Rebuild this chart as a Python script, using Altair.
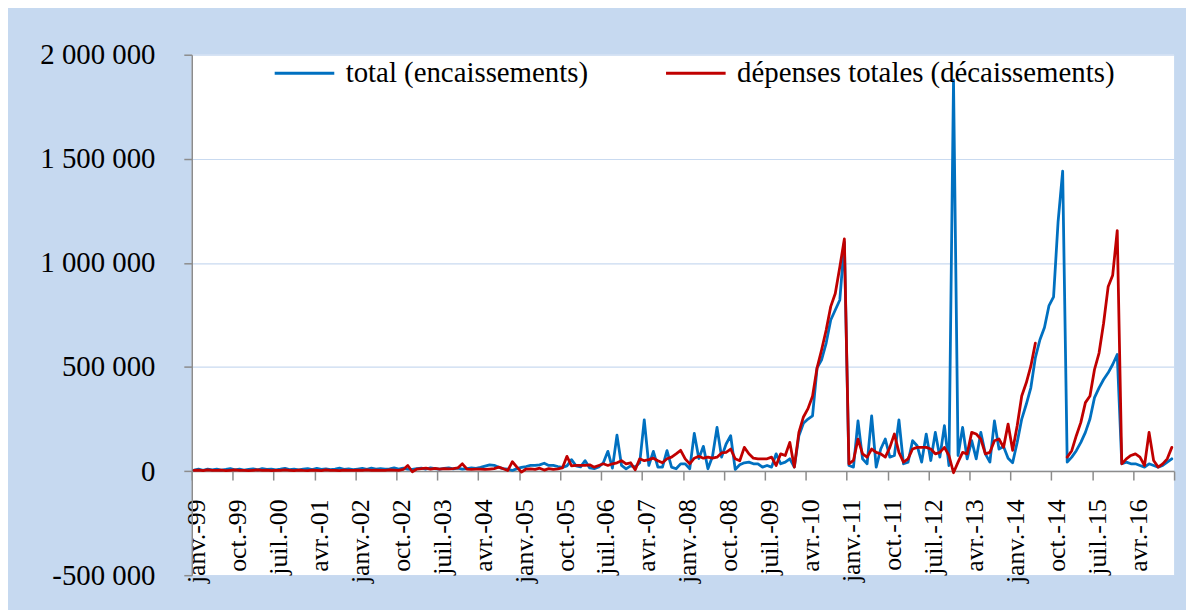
import json
import altair as alt
import pandas as pd

# ---- tick labels -------------------------------------------------------
x_tick_labels = ["janv.-99", "oct.-99", "juil.-00", "avr.-01", "janv.-02", "oct.-02",
                 "juil.-03", "avr.-04", "janv.-05", "oct.-05", "juil.-06", "avr.-07",
                 "janv.-08", "oct.-08", "juil.-09", "avr.-10", "janv.-11", "oct.-11",
                 "juil.-12", "avr.-13", "janv.-14", "oct.-14", "juil.-15", "avr.-16", ""]
y_tick_values = [-500000, 0, 500000, 1000000, 1500000, 2000000]
y_tick_labels = ["-500 000", "0", "500 000", "1 000 000", "1 500 000", "2 000 000"]

series_names = ["total (encaissements)", "dépenses totales (décaissements)"]

# ---- monthly values, janv. 1999 -> déc. 2016, in thousands of millions F CFA ----
encaissements_k = [
    5, 9, 4, 10, 6, 9, 5, 8, 12, 6, 9, 5,                 # 1999
    8, 11, 6, 12, 8, 10, 6, 9, 13, 7, 10, 6,              # 2000
    9, 12, 7, 13, 8, 11, 7, 10, 14, 8, 11, 7,             # 2001
    10, 13, 8, 14, 10, 12, 9, 11, 15, 10, 14, 9,          # 2002
    8, 12, 14, 10, 15, 12, 9, 13, 16, 11, 14, 10,         # 2003
    12, 15, 13, 18, 24, 30, 28, 18, 12, 10, 3, 12,        # 2004
    18, 22, 27, 27, 30, 38, 27, 27, 22, 18, 25, 55,       # 2005
    25, 20, 50, 15, 12, 20, 40, 95, 14, 173, 27, 11,      # 2006
    25, 20, 40, 246, 27, 95, 19, 19, 98, 19, 11, 35,      # 2007
    35, 11, 181, 60, 119, 11, 70, 210, 67, 130, 170, 8,   # 2008
    30, 40, 43, 35, 35, 19, 27, 19, 83, 35, 43, 59,       # 2009
    19, 170, 230, 250, 265, 496, 535, 615, 726, 774, 822, 1100,   # 2010
    27, 19, 241, 59, 35, 265, 19, 106, 154, 67, 75, 246,  # 2011
    35, 43, 146, 122, 43, 178, 51, 186, 67, 218, 27, 1878,  # 2012
    75, 210, 59, 146, 59, 186, 83, 43, 241, 106, 118, 62,   # 2013
    40, 138, 250, 321, 400, 545, 631, 690, 795, 837, 1200, 1441,  # 2014
    43, 67, 98, 138, 186, 250, 353, 400, 440, 472, 512, 560,      # 2015
    35, 43, 35, 35, 27, 19, 35, 27, 19, 27, 43, 59,               # 2016
]
decaissements_k = [
    3, 5, 2, 6, 4, 3, 5, 2, 4, 6, 3, 4,                   # 1999
    2, 4, 6, 3, 5, 2, 4, 3, 6, 4, 2, 5,                   # 2000
    3, 2, 5, 4, 2, 6, 3, 4, 2, 5, 3, 4,                   # 2001
    5, 3, 6, 4, 5, 3, 4, 6, 5, 4, 8, 27,                  # 2002
    -3, 10, 12, 14, 9, 13, 10, 12, 11, 12, 15, 35,        # 2003
    10, 8, 9, 10, 8, 10, 12, 19, 11, 3, 45, 19,           # 2004
    -5, 10, 11, 8, 14, 5, 12, 8, 11, 15, 71, 25,          # 2005
    27, 27, 27, 30, 19, 27, 35, 27, 35, 40, 50, 35,       # 2006
    40, 6, 59, 50, 55, 62, 50, 40, 59, 67, 83, 100,       # 2007
    59, 35, 62, 71, 62, 67, 62, 67, 87, 90, 106, 59,      # 2008
    50, 114, 83, 62, 59, 59, 59, 67, 27, 83, 75, 138,     # 2009
    19, 186, 260, 300, 360, 496, 583, 678, 790, 853, 980, 1115,   # 2010
    35, 51, 154, 83, 67, 106, 90, 83, 67, 114, 178, 90,   # 2011
    43, 59, 106, 114, 114, 114, 106, 83, 90, 114, 75, -8, # 2012
    43, 90, 83, 186, 178, 154, 83, 90, 146, 154, 114, 226,  # 2013
    100, 218, 361, 424, 504, 615, None, None, None, None, None, None,  # 2014
    67, 98, 170, 234, 329, 361, 488, 567, 710, 885, 941, 1155,   # 2015
    35, 59, 75, 83, 67, 27, 186, 51, 19, 35, 59, 114,            # 2016
]

# ---- tables --------------------------------------------------------------
rows_blue = [{"t": m + 0.5, "v": val * 1000, "serie": series_names[0]}
             for m, val in enumerate(encaissements_k)]
rows_red = []
seg = 0
for m, val in enumerate(decaissements_k):
    if val is None:
        seg += 1
        continue
    rows_red.append({"t": m + 0.5, "v": val * 1000, "serie": series_names[1], "seg": seg})
df_blue = pd.DataFrame(rows_blue)
df_red = pd.DataFrame(rows_red)

W, H = 989, 524
FONT = "Liberation Serif"
axis_gray = "#8C8C8C"

x_enc = alt.X(
    "t:Q",
    scale=alt.Scale(domain=[0, 216], nice=False, zero=False),
    axis=alt.Axis(
        values=list(range(0, 217, 9)),
        labelExpr=json.dumps(x_tick_labels) + "[round(datum.value / 9)]",
        labelAngle=-90, labelAlign="right", labelBaseline="middle",
        labelFlush=False, labelOverlap=False, labelOffset=5,
        offset=-H * 0.2, tickSize=9, labelPadding=19,
        grid=False, title=None,
        domainColor=axis_gray, tickColor=axis_gray, domainWidth=1.5, tickWidth=1.5,
        labelFont=FONT, labelFontSize=26, labelColor="black",
    ),
)
y_enc = alt.Y(
    "v:Q",
    scale=alt.Scale(domain=[-500000, 2000000], nice=False, zero=False),
    axis=alt.Axis(
        values=y_tick_values,
        labelExpr=json.dumps(y_tick_labels) + "[round((datum.value + 500000) / 500000)]",
        tickSize=8, labelPadding=29, labelOverlap=False, labelFlush=False,
        grid=True, gridColor="#C9DAF0", gridWidth=1.2,
        domainColor=axis_gray, tickColor=axis_gray, domainWidth=1.5, tickWidth=1.5,
        title=None, labelFont=FONT, labelFontSize=29, labelColor="black",
    ),
)
color_enc = alt.Color(
    "serie:N",
    scale=alt.Scale(domain=series_names, range=["#0070C0", "#C00000"]),
    legend=alt.Legend(
        title=None, orient="none", direction="horizontal",
        legendX=82, legendY=-13, padding=0,
        symbolType="stroke", symbolSize=3600, symbolStrokeWidth=3,
        labelFont=FONT, labelFontSize=29, labelColor="black", labelLimit=0,
        labelOffset=10, columnPadding=72,
    ),
)

blue = alt.Chart(df_blue).mark_line(strokeWidth=2.8, strokeJoin="round", strokeCap="round").encode(
    x=x_enc, y=y_enc, color=color_enc
)
red = alt.Chart(df_red).mark_line(strokeWidth=2.8, strokeJoin="round", strokeCap="round").encode(
    x=x_enc, y=y_enc, color=color_enc, detail="seg:N"
)

chart = alt.layer(blue, red).properties(
    width=W, height=H,
    autosize=alt.AutoSizeParams(type="none"),
    padding={"left": 185, "top": 45, "right": 12, "bottom": 33},
).configure(background="#C6D9F0").configure_view(fill="white", stroke=None)

chart.save("out.html", embed_options={"renderer": "svg", "actions": False})
